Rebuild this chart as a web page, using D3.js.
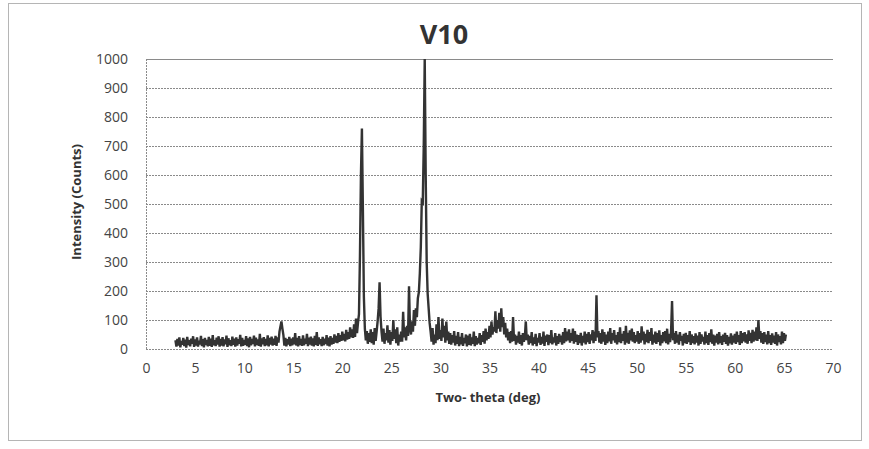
<!DOCTYPE html>
<html>
<head>
<meta charset="utf-8">
<script src="https://cdn.jsdelivr.net/npm/d3@7"></script>
<style>
  body { margin: 0; background: #fff; }
  svg text { font-family: "Open Sans", "DejaVu Sans", sans-serif; }
</style>
</head>
<body>
<svg id="chart" width="869" height="449"></svg>
<script>
// V10 -- XRD pattern

var title = "V10";
var xTitle = "Two- theta (deg)";
var yTitle = "Intensity (Counts)";

var xTicks = [0, 5, 10, 15, 20, 25, 30, 35, 40, 45, 50, 55, 60, 65, 70];
var yTicks = [0, 100, 200, 300, 400, 500, 600, 700, 800, 900, 1000];

// scan starts at 3.0 deg, one reading every 0.1 deg (one row = one degree)
var thetaStart = 3.0;
var thetaStep = 0.1;
var counts = [
  30, 8, 35, 12, 40, 6, 28, 15, 38, 10,        // 3
  32, 5, 42, 14, 30, 9, 36, 18, 44, 7,         // 4
  33, 12, 40, 8, 29, 16, 45, 10, 34, 6,        // 5
  38, 14, 31, 9, 42, 11, 36, 7, 48, 13,        // 6
  30, 10, 39, 15, 44, 8, 35, 12, 41, 9,        // 7
  33, 16, 46, 7, 37, 13, 30, 10, 43, 14,       // 8
  36, 8, 40, 12, 34, 18, 49, 9, 38, 11,        // 9
  31, 15, 44, 10, 37, 6, 42, 13, 35, 17,       // 10
  46, 9, 39, 14, 33, 11, 52, 8, 37, 16,        // 11
  41, 10, 35, 13, 47, 9, 38, 15, 43, 12,       // 12
  36, 14, 45, 11, 40, 22, 60, 78, 95, 70,      // 13
  48, 12, 38, 9, 34, 15, 42, 10, 36, 13,       // 14
  40, 16, 55, 12, 38, 9, 44, 14, 35, 11,       // 15
  47, 13, 36, 18, 52, 10, 39, 15, 43, 12,      // 16
  37, 9, 45, 14, 58, 11, 40, 16, 34, 10,       // 17
  42, 13, 36, 17, 48, 12, 39, 9, 44, 15,       // 18
  38, 18, 50, 22, 45, 20, 55, 25, 48, 28,      // 19
  60, 30, 52, 26, 66, 32, 58, 35, 75, 40,      // 20
  68, 38, 85, 42, 105, 55, 90, 120, 320, 600,  // 21
  760, 480, 180, 70, 30, 62, 18, 55, 25, 68,   // 22
  20, 58, 15, 72, 28, 60, 95, 140, 230, 110,   // 23
  60, 25, 70, 18, 55, 30, 82, 22, 65, 15,      // 24
  58, 28, 100, 35, 68, 20, 75, 12, 50, 25,     // 25
  60, 25, 128, 40, 75, 30, 80, 45, 216, 70,    // 26
  50, 95, 60, 134, 80, 140, 110, 175, 195, 260, // 27
  350, 510, 505, 700, 1000, 600, 300, 190, 140, 90, // 28
  60, 25, 72, 15, 50, 20, 85, 30, 110, 35,     // 29
  65, 28, 105, 40, 80, 22, 95, 30, 60, 18,     // 30
  55, 15, 48, 22, 62, 12, 45, 18, 58, 10,      // 31
  42, 16, 55, 11, 38, 20, 50, 9, 46, 14,       // 32
  52, 12, 40, 18, 60, 10, 44, 15, 38, 20,      // 33
  55, 14, 48, 25, 62, 18, 70, 30, 58, 35,      // 34
  80, 40, 95, 50, 75, 60, 130, 55, 100, 70,    // 35
  125, 60, 140, 75, 110, 50, 90, 40, 70, 30,   // 36
  58, 20, 62, 25, 110, 28, 50, 15, 45, 22,     // 37
  60, 18, 48, 12, 55, 25, 42, 95, 30, 50,      // 38
  15, 45, 20, 58, 12, 40, 18, 52, 10, 38,      // 39
  22, 55, 14, 42, 19, 60, 11, 46, 25, 50,      // 40
  13, 48, 20, 65, 16, 40, 22, 55, 12, 44,      // 41
  18, 52, 24, 46, 15, 58, 20, 72, 26, 60,      // 42
  30, 68, 22, 55, 28, 70, 18, 62, 25, 50,      // 43
  14, 48, 20, 56, 12, 45, 22, 60, 16, 52,      // 44
  24, 58, 18, 50, 30, 65, 20, 60, 28, 185,     // 45
  40, 62, 22, 55, 18, 68, 25, 58, 14, 50,      // 46
  20, 60, 26, 72, 18, 55, 30, 65, 22, 48,      // 47
  16, 58, 24, 75, 20, 52, 28, 62, 15, 80,      // 48
  22, 56, 18, 64, 30, 70, 25, 58, 20, 48,      // 49
  26, 62, 18, 55, 22, 78, 30, 60, 16, 52,      // 50
  24, 66, 20, 58, 28, 72, 15, 50, 22, 60,      // 51
  18, 55, 25, 64, 12, 48, 20, 58, 26, 62,      // 52
  20, 70, 16, 52, 24, 60, 165, 30, 55, 18,     // 53
  62, 22, 50, 15, 58, 28, 45, 12, 52, 20,      // 54
  56, 18, 48, 24, 62, 14, 50, 20, 44, 16,      // 55
  54, 22, 46, 12, 58, 18, 50, 26, 42, 15,      // 56
  60, 20, 48, 14, 55, 24, 68, 18, 50, 12,      // 57
  46, 22, 52, 16, 58, 20, 44, 14, 50, 25,      // 58
  56, 18, 48, 12, 42, 20, 54, 15, 46, 22,      // 59
  52, 18, 60, 24, 48, 14, 62, 20, 55, 26,      // 60
  58, 22, 50, 18, 64, 28, 56, 20, 66, 25,      // 61
  60, 30, 75, 28, 100, 35, 62, 22, 55, 18,     // 62
  58, 24, 50, 16, 62, 20, 48, 14, 54, 22,      // 63
  46, 18, 58, 12, 50, 24, 44, 16, 60, 20,      // 64
  55, 28, 50                                   // 65
];

var svg = d3.select("#chart");

// plot area edges (pixels)
var plotLeft = 146, plotRight = 833, plotTop = 59, plotBottom = 349;

var x = d3.scaleLinear().domain([0, 70]).range([plotLeft, plotRight]);
var y = d3.scaleLinear().domain([0, 1000]).range([plotBottom, plotTop]);

// chart border
svg.append("rect")
  .attr("x", 8.5).attr("y", 3.5)
  .attr("width", 853).attr("height", 437)
  .attr("fill", "none")
  .attr("stroke", "#b5b5b5")
  .attr("stroke-width", 1);

///////////////////////////////////////////////////////////////////////////////
// gridlines + axes

svg.append("g")
  .selectAll("line")
  .data(yTicks)
  .enter().append("line")
  .attr("x1", plotLeft).attr("x2", plotRight)
  .attr("y1", function (d) { return Math.round(y(d)) + 0.5; })
  .attr("y2", function (d) { return Math.round(y(d)) + 0.5; })
  .attr("stroke", "#8a8a8a")
  .attr("stroke-dasharray", function (d) { return d === 1000 ? null : "2,1"; });

svg.append("line")
  .attr("x1", plotLeft + 0.5).attr("x2", plotLeft + 0.5)
  .attr("y1", plotTop).attr("y2", plotBottom)
  .attr("stroke", "#8a8a8a")
  .attr("stroke-dasharray", "2,1");

var yAxis = svg.append("g")
  .attr("transform", "translate(" + (plotLeft - 6) + ",0)")
  .call(d3.axisLeft(y).tickValues(yTicks).tickFormat(d3.format("d"))
    .tickSize(0).tickPadding(12));

var xAxis = svg.append("g")
  .attr("transform", "translate(0," + plotBottom + ")")
  .call(d3.axisBottom(x).tickValues(xTicks).tickFormat(d3.format("d"))
    .tickSize(0).tickPadding(14));

[yAxis, xAxis].forEach(function (g) {
  g.select(".domain").remove();
  g.selectAll("text")
    .attr("font-family", "Open Sans")
    .style("font-size", "14px")
    .attr("fill", "#444");
});

///////////////////////////////////////////////////////////////////////////////
// the scan

var line = d3.line()
  .x(function (d, i) { return x(thetaStart + i * thetaStep); })
  .y(function (d) { return y(d); });

svg.append("path")
  .datum(counts)
  .attr("d", line)
  .attr("fill", "none")
  .attr("stroke", "#333")
  .attr("stroke-width", 2.4)
  .attr("stroke-linejoin", "miter");

///////////////////////////////////////////////////////////////////////////////
// titles

svg.append("text")
  .attr("x", 444).attr("y", 44)
  .attr("text-anchor", "middle")
  .attr("font-weight", "bold")
  .style("font-size", "27px")
  .attr("fill", "#333")
  .text(title);

svg.append("text")
  .attr("x", 488).attr("y", 402)
  .attr("text-anchor", "middle")
  .attr("font-weight", "bold")
  .style("font-size", "13px")
  .attr("fill", "#333")
  .text(xTitle);

svg.append("text")
  .attr("transform", "translate(76,202) rotate(-90)")
  .attr("text-anchor", "middle")
  .attr("dy", "0.35em")
  .attr("font-weight", "bold")
  .style("font-size", "13px")
  .attr("fill", "#333")
  .text(yTitle);
</script>
</body>
</html>
